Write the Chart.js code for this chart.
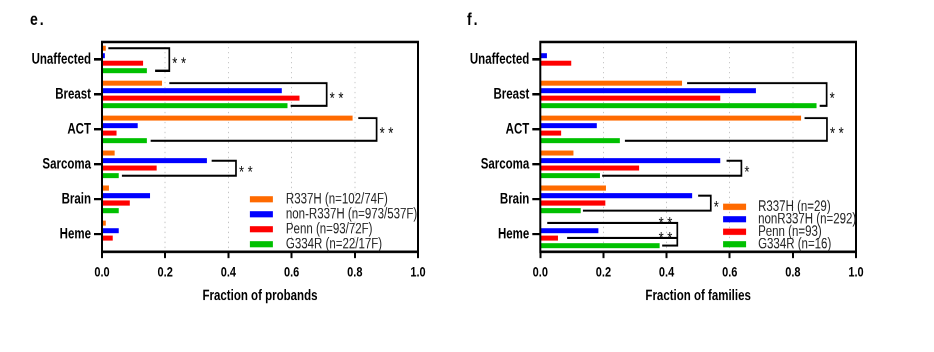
<!DOCTYPE html>
<html>
<head>
<title>Fraction of probands / families</title>
<script src="https://cdn.jsdelivr.net/npm/chart.js"></script>
<style>
  html, body { margin: 0; background: #fff; height: 352px; }
  #wrap { position: relative; width: 934px; height: 352px; }
  canvas { position: absolute; top: 0; }
</style>
</head>
<body>
<div id="wrap">
  <!-- the source figure is stretched vertically: draw at 282px tall, show at 352px -->
  <canvas id="chartE" width="467" height="282" style="left:0;width:467px;height:352px"></canvas>
  <canvas id="chartF" width="467" height="282" style="left:467px;width:467px;height:352px"></canvas>
</div>
<script>
var categories = ['Unaffected', 'Breast', 'ACT', 'Sarcoma', 'Brain', 'Heme'];

// panel e: fraction of probands
var probandLabels = ['R337H (n=102/74F)', 'non-R337H (n=973/537F)', 'Penn (n=93/72F)', 'G334R (n=22/17F)'];
var probR337H    = [0.012, 0.190, 0.793, 0.040, 0.022, 0.012];
var probNonR337H = [0.009, 0.569, 0.113, 0.332, 0.152, 0.053];
var probPenn     = [0.130, 0.625, 0.046, 0.173, 0.088, 0.034];
var probG334R    = [0.142, 0.587, 0.142, 0.053, 0.053, 0];

// panel f: fraction of families
var familyLabels = ['R337H (n=29)', 'nonR337H (n=292)', 'Penn (n=93)', 'G334R (n=16)'];
var famR337H    = [0, 0.449, 0.826, 0.105, 0.208, 0];
var famNonR337H = [0.021, 0.683, 0.179, 0.570, 0.481, 0.184];
var famPenn     = [0.098, 0.570, 0.066, 0.313, 0.206, 0.056];
var famG334R    = [0, 0.875, 0.252, 0.189, 0.128, 0.378];

// significance brackets: arms = [series, x where arm starts], x = vertical bar
var probBrackets = [
  { cat: 0, arms: [[0, 0.020], [3, 0.168]], x: 0.213, stars: '* *' },
  { cat: 1, arms: [[0, 0.213], [3, 0.597]], x: 0.711, stars: '* *' },
  { cat: 2, arms: [[0, 0.811], [3, 0.154]], x: 0.869, stars: '* *' },
  { cat: 3, arms: [[1, 0.347], [3, 0.063]], x: 0.424, stars: '* *' }
];
var famBrackets = [
  { cat: 1, arms: [[0, 0.465], [3, 0.885]], x: 0.907, stars: '*' },
  { cat: 2, arms: [[0, 0.837], [3, 0.268]], x: 0.908, stars: '* *' },
  { cat: 3, arms: [[1, 0.590], [3, 0.196]], x: 0.637, stars: '*' },
  { cat: 4, arms: [[1, 0.500], [3, 0.135]], x: 0.540, stars: '*' },
  { cat: 5, arms: [[0, 0.022], [2, 0.085], [3, 0.386]], x: 0.434, stars: '* *', above: [0, 1] }
];

var colors = ['#FF6A00', '#0000FF', '#FF0000', '#00C000'];
var fontFamily = "'Liberation Sans', Arial, sans-serif";

var extras = {
  id: 'extras',
  afterDatasetsDraw: function (chart, args, opts) {
    var ctx = chart.ctx, a = chart.chartArea, xs = chart.scales.x;
    ctx.save();

    // frame
    ctx.strokeStyle = '#000';
    ctx.lineWidth = 2;
    ctx.strokeRect(a.left, a.top, a.right - a.left, a.bottom - a.top);

    // brackets
    ctx.lineWidth = 1.7;
    ctx.lineJoin = 'miter';
    ctx.fillStyle = '#000';
    ctx.font = '13px ' + fontFamily;
    opts.brackets.forEach(function (b) {
      var bx = xs.getPixelForValue(b.x);
      var ys = b.arms.map(function (arm) { return chart.getDatasetMeta(arm[0]).data[b.cat].y; });
      var first = b.arms[0], last = b.arms[b.arms.length - 1];
      ctx.beginPath();
      ctx.moveTo(xs.getPixelForValue(first[1]), ys[0]);
      ctx.lineTo(bx, ys[0]);
      ctx.lineTo(bx, ys[ys.length - 1]);
      ctx.lineTo(xs.getPixelForValue(last[1]), ys[ys.length - 1]);
      for (var i = 1; i < b.arms.length - 1; i++) {
        ctx.moveTo(xs.getPixelForValue(b.arms[i][1]), ys[i]);
        ctx.lineTo(bx, ys[i]);
      }
      ctx.stroke();
      ctx.textBaseline = 'alphabetic';
      if (b.above) {
        ctx.textAlign = 'right';
        b.above.forEach(function (k) {
          ctx.fillText(b.stars, bx - 5, ys[k] + 4.5);
        });
      } else {
        ctx.textAlign = 'left';
        ctx.fillText(b.stars, bx + 3, (ys[0] + ys[ys.length - 1]) / 2 + 7.5);
      }
    });

    // legend inside the plot
    var lx = xs.getPixelForValue(opts.legendX);
    ctx.font = '11.5px ' + fontFamily;
    ctx.textAlign = 'left';
    ctx.textBaseline = 'middle';
    opts.legend.forEach(function (txt, i) {
      var ly = a.top + opts.legendTop + i * opts.legendStep;
      ctx.fillStyle = colors[i];
      ctx.fillRect(lx, ly - 2.5, 23, 5);
      ctx.fillStyle = '#222';
      ctx.fillText(txt, lx + opts.legendGap, ly);
    });

    // axis title
    ctx.fillStyle = '#000';
    ctx.font = 'bold 11.5px ' + fontFamily;
    ctx.textAlign = 'center';
    ctx.fillText(opts.title, (a.left + a.right) / 2, a.bottom + 35.5);

    // panel letter
    ctx.font = 'bold 14px ' + fontFamily;
    ctx.letterSpacing = '2px';
    ctx.textAlign = 'left';
    ctx.textBaseline = 'alphabetic';
    ctx.fillText(opts.panel, opts.panelX, 20);
    ctx.restore();
  }
};

function makeChart(id, series, cfg) {
  var datasets = series.map(function (vals, i) {
    return { label: cfg.legend[i], data: vals, backgroundColor: colors[i], borderWidth: 0 };
  });
  return new Chart(document.getElementById(id), {
    type: 'bar',
    data: { labels: categories, datasets: datasets },
    plugins: [extras],
    options: {
      indexAxis: 'y',
      responsive: false,
      animation: false,
      devicePixelRatio: 2,
      categoryPercentage: 0.857,
      barPercentage: 0.667,
      layout: { padding: { left: 0, right: cfg.padRight, top: 33.65, bottom: 37.9 } },
      plugins: {
        legend: { display: false },
        tooltip: { enabled: false },
        extras: cfg
      },
      scales: {
        x: {
          type: 'linear', min: 0, max: 1,
          ticks: {
            stepSize: 0.2, padding: 5, color: '#000',
            font: { family: fontFamily, size: 11, weight: 'bold' },
            callback: function (v) { return v.toFixed(1); }
          },
          grid: { color: '#c4c4c4', lineWidth: 1, tickLength: 5, tickWidth: 2, tickColor: '#000' },
          border: { display: false, dash: [1, 3] },
          afterFit: function (s) { s.height = 42.4; }
        },
        y: {
          ticks: {
            padding: 3, color: '#000',
            font: { family: fontFamily, size: 11.5, weight: 'bold' }
          },
          grid: { offset: false, drawOnChartArea: false, tickLength: 8, tickWidth: 2, tickColor: '#000' },
          border: { display: false },
          afterFit: function (s) { s.width = cfg.axisWidth; }
        }
      }
    }
  });
}

makeChart('chartE', [probR337H, probNonR337H, probPenn, probG334R], {
  panel: 'e.', panelX: 30, title: 'Fraction of probands',
  legend: probandLabels, legendX: 0.468, legendTop: 126, legendStep: 12, legendGap: 36,
  brackets: probBrackets, axisWidth: 102, padRight: 49
});

makeChart('chartF', [famR337H, famNonR337H, famPenn, famG334R], {
  panel: 'f.', panelX: 0, title: 'Fraction of families',
  legend: familyLabels, legendX: 0.579, legendTop: 132, legendStep: 10, legendGap: 35,
  brackets: famBrackets, axisWidth: 73.3, padRight: 78
});
</script>
</body>
</html>
